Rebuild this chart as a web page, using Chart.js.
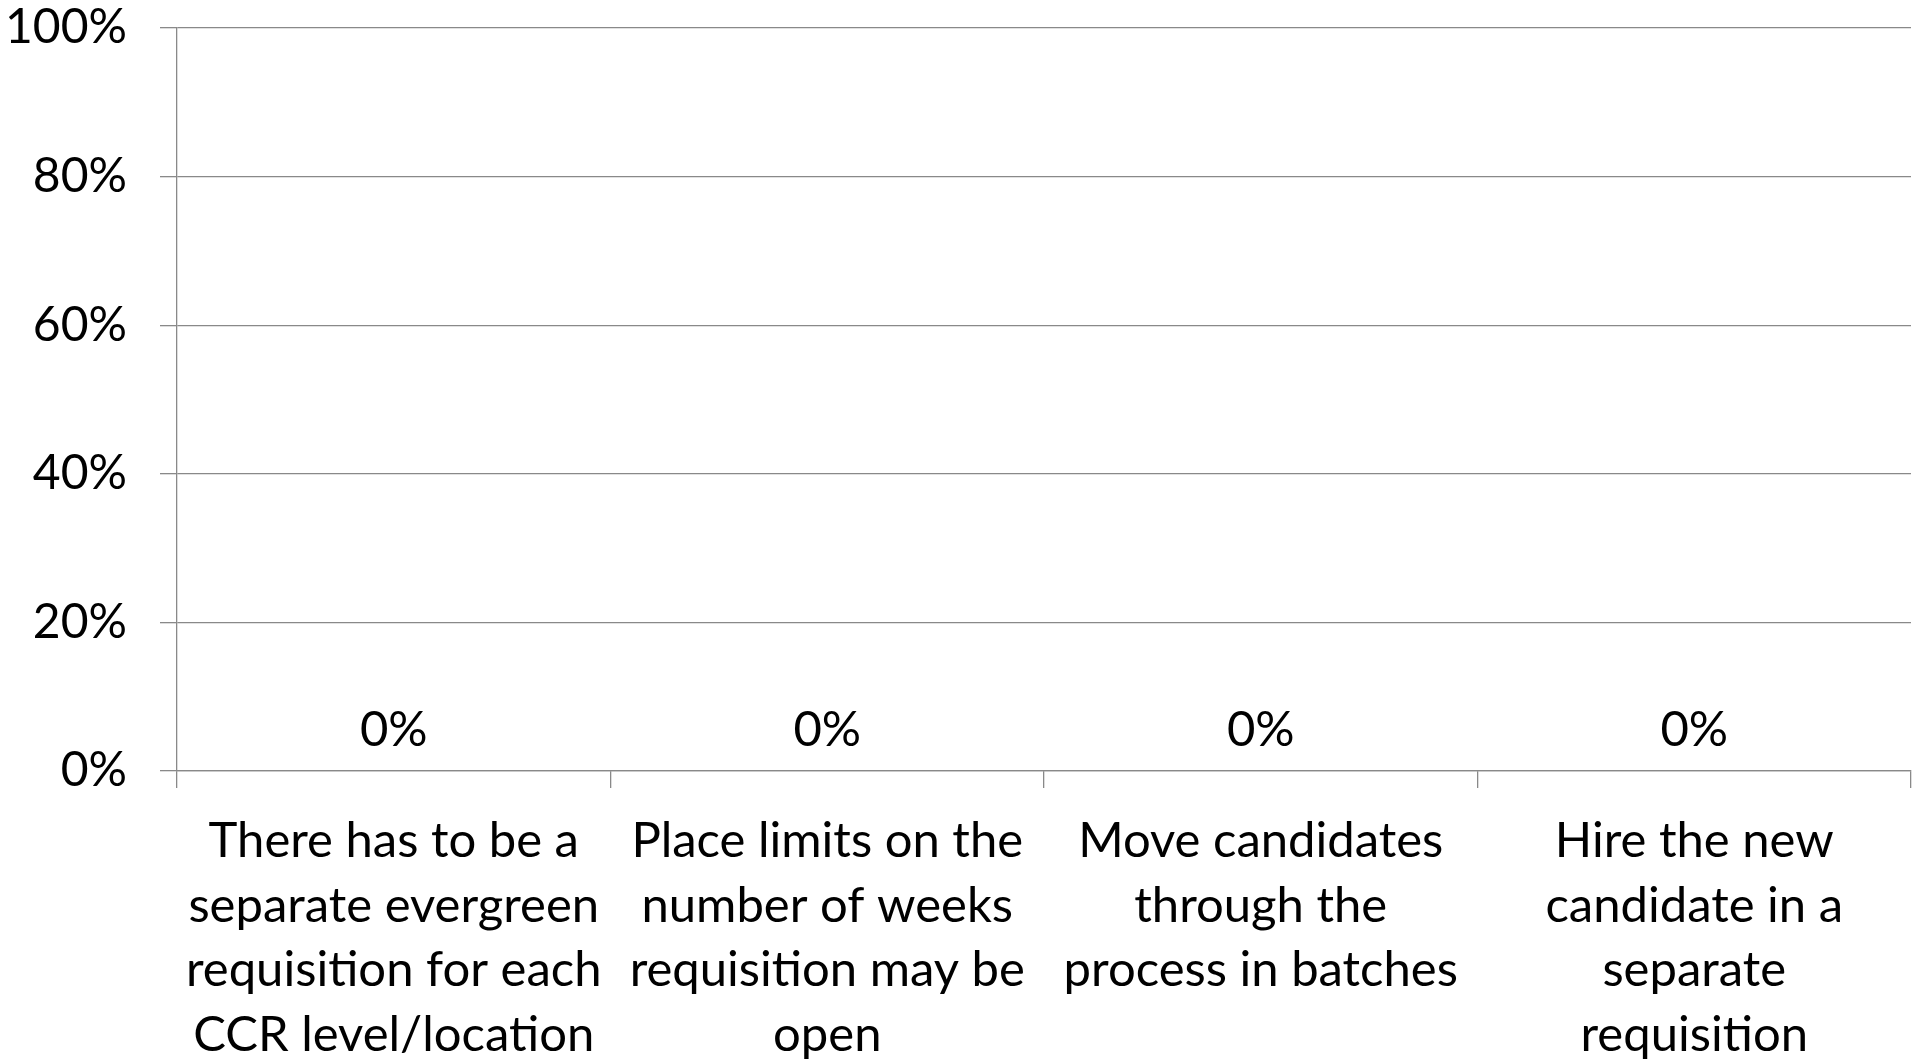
<!DOCTYPE html>
<html>
<head>
<meta charset="utf-8">
<script src="https://cdn.jsdelivr.net/npm/chart.js@4/dist/chart.umd.min.js"></script>
<style>
  html, body { margin: 0; padding: 0; background: #ffffff; }
  #wrap { width: 1926px; height: 1061px; }
</style>
</head>
<body>
<div id="wrap"><canvas id="c" width="1926" height="1061"></canvas></div>
<script>
// Survey answers (multi-line category labels) and their shares in percent
const categories = [
  ['There has to be a', 'separate evergreen', 'requisition for each', 'CCR level/location'],
  ['Place limits on the', 'number of weeks', 'requisition may be', 'open'],
  ['Move candidates', 'through the', 'process in batches'],
  ['Hire the new', 'candidate in a', 'separate', 'requisition']
];
const shares = [0, 0, 0, 0];
const yTicks = [0, 20, 40, 60, 80, 100];

const FONT = 'Lato';
const GRID = '#898989';

// Writes each bar's value just above the bar end
const valueLabels = {
  id: 'valueLabels',
  afterDatasetsDraw(chart) {
    const ctx = chart.ctx;
    const meta = chart.getDatasetMeta(0);
    ctx.save();
    ctx.font = '49px ' + FONT;
    ctx.fillStyle = '#000000';
    ctx.textAlign = 'center';
    ctx.textBaseline = 'middle';
    meta.data.forEach((bar, i) => {
      ctx.fillText(shares[i] + '%', bar.x, bar.y - 41);
    });
    ctx.restore();
  }
};

new Chart(document.getElementById('c'), {
  type: 'bar',
  data: {
    labels: categories,
    datasets: [{
      data: shares,
      backgroundColor: '#4f81bd',
      borderWidth: 0
    }]
  },
  options: {
    responsive: false,
    animation: false,
    events: [],
    layout: { padding: { top: 0, right: 15, left: 0, bottom: 0 } },
    plugins: { legend: { display: false }, tooltip: { enabled: false } },
    scales: {
      x: {
        offset: true,
        grid: {
          offset: true,
          drawOnChartArea: false,
          drawTicks: true,
          tickLength: 17,
          color: GRID,
          lineWidth: 1.3
        },
        border: { display: true, color: GRID, width: 1.3 },
        ticks: {
          color: '#000000',
          font: { family: FONT, size: 49, lineHeight: 64.5 / 49 },
          padding: 21,
          maxRotation: 0,
          minRotation: 0,
          autoSkip: false
        },
        afterFit(scale) { scale.height = 290; scale.paddingLeft = 0; scale.paddingRight = 0; }
      },
      y: {
        min: 0,
        max: 100,
        afterBuildTicks(scale) { scale.ticks = yTicks.map(v => ({ value: v })); },
        grid: {
          color: GRID,
          lineWidth: 1.3,
          drawTicks: true,
          tickLength: 17
        },
        border: { display: true, color: GRID, width: 1.3 },
        ticks: {
          color: '#000000',
          font: { family: FONT, size: 48 },
          padding: 33,
          callback: v => v + '%'
        },
        afterFit(scale) { scale.width = 177; scale.paddingTop = 28; scale.paddingBottom = 0; }
      }
    }
  },
  plugins: [valueLabels]
});
</script>
</body>
</html>
